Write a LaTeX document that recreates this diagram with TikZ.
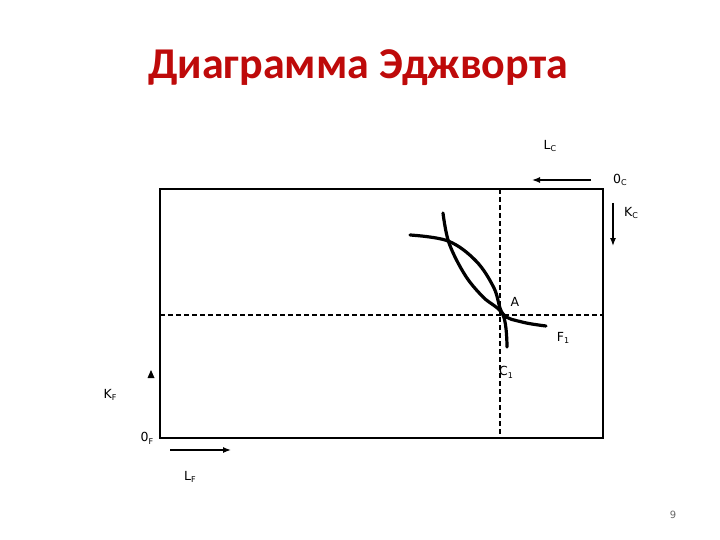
\documentclass[tikz,border=0pt]{standalone}
\usepackage{fontspec}
\setmainfont{DejaVu Sans}
\newfontfamily\titlefont{Carlito}
\usetikzlibrary{arrows.meta}
\definecolor{titlered}{RGB}{190,10,10}
\tikzset{
  lbl/.style={font=\fontsize{12.5}{13}\selectfont, inner sep=0pt},
  curve/.style={line width=3.2pt, line cap=round},
  guide/.style={line width=1.4pt, dash pattern=on 5pt off 3pt},
  axarrow/.style={line width=1.3pt, -{Latex[length=8pt,width=6pt]}}
}
\newcommand{\sbs}[1]{\raisebox{-0.4ex}{\fontsize{8}{8}\selectfont #1}}
\begin{document}
\begin{tikzpicture}[x=1pt,y=-1pt]
\useasboundingbox (0,0) rectangle (720,540);
\node[font=\titlefont\bfseries\fontsize{44}{48}\selectfont, text=titlered] (title) at (358,68) {Диаграмма Эджворта};
% box
\draw[line width=1.5pt] (160,189) rectangle (603,438);
\coordinate (vtop) at (500,189);
\coordinate (vbot) at (500,438);
\coordinate (hl) at (160,315);
\coordinate (hr) at (603,315);
\draw[guide] (vtop) -- (vbot);
\draw[guide] (hl) -- (hr);
% curves
\draw[curve] plot[smooth, tension=0.6] coordinates {(410,235) (448,241) (476,261) (494,288) (503,314) (522,322) (546,326)};
\draw[curve] plot[smooth, tension=0.6] coordinates {(443,213) (449,243) (465,275) (483,297) (503,315) (507,347)};
% labels
\node[lbl] (A) at (515,302) {A};
\node[lbl] (F1) at (563,338) {F\sbs{1}};
\node[lbl] (C1) at (506,372) {C\sbs{1}};
\node[lbl] (Lc) at (550,146) {L\sbs{C}};
\node[lbl] (Oc) at (620,180) {0\sbs{C}};
\node[lbl] (Kc) at (631,213) {K\sbs{C}};
\node[lbl] (Kf) at (110,395) {K\sbs{F}};
\node[lbl] (Of) at (147,438) {0\sbs{F}};
\node[lbl] (Lf) at (190,477) {L\sbs{F}};
\node[font=\fontsize{10}{11}\selectfont, text=black!60, inner sep=0pt] (pg) at (673,515) {9};
% arrows
\coordinate (lcs) at (591,180); \coordinate (lce) at (532,180);
\draw[axarrow] (lcs) -- (lce);
\coordinate (kcs) at (613,203); \coordinate (kce) at (613,246);
\draw[axarrow] (kcs) -- (kce);
\coordinate (lfs) at (170,450); \coordinate (lfe) at (231,450);
\draw[axarrow] (lfs) -- (lfe);
\fill (151,370) -- (147.5,378) -- (154.5,378) -- cycle;
\end{tikzpicture}
\end{document}
